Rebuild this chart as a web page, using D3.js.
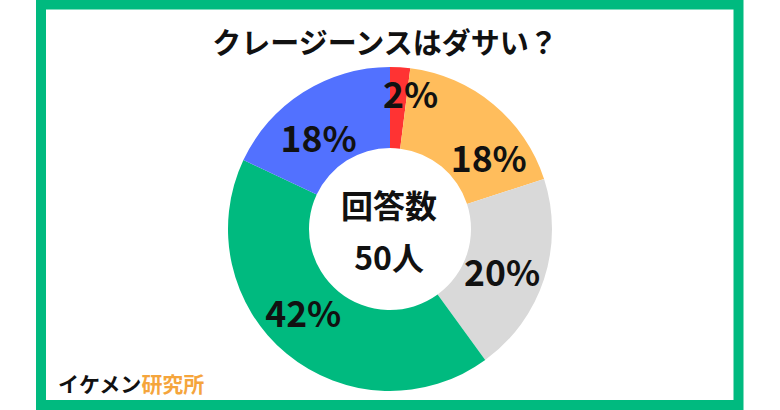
<!DOCTYPE html>
<html><head><meta charset="utf-8">
<script src="https://cdn.jsdelivr.net/npm/d3@7"></script>
<style>
html,body{margin:0;padding:0;background:#fff;}
svg{display:block;}
text{font-family:"Noto Sans CJK JP","Noto Sans",sans-serif;font-weight:700;}
</style></head>
<body>
<svg id="chart" width="780" height="410"></svg>
<script>
// Data
const title = "クレージーンスはダサい？";
const categories = ["A", "B", "C", "D", "E"];
const values = [2, 18, 20, 42, 18];
const labels = ["2%", "18%", "20%", "42%", "18%"];
const centerLines = ["回答数", "50人"];
const brandBlack = "イケメン";
const brandOrange = "研究所";

// Layout / style (kept separate from data)
const colors = ["#FF3333", "#FFBD5C", "#D9D9D9", "#00BA7F", "#5271FF"];
const labelNudge = [[13, -15], [21, 22], [-4, 4], [-9, -12], [-6, 11]];

const svg = d3.select("#chart");

svg.append("rect").attr("x", 41).attr("y", 4.5).attr("width", 697.5).attr("height", 400.5)
  .attr("fill", "none").attr("stroke", "#00BA7F").attr("stroke-width", 10);

svg.append("text").attr("x", 385).attr("y", 41).attr("text-anchor", "middle")
  .attr("dominant-baseline", "central").attr("font-size", 29).attr("fill", "#111").text(title);

const cx = 390, cy = 229, R = 162, r = 81;
const g = svg.append("g").attr("transform", `translate(${cx},${cy})`);
const pie = d3.pie().value(d => d).sort(null);
const arcs = pie(values);
const arc = d3.arc().innerRadius(r).outerRadius(R);
const labelArc = d3.arc().innerRadius(122).outerRadius(122);

g.selectAll("path.slice").data(arcs).enter().append("path")
  .attr("class", "slice").attr("d", arc).attr("fill", (d, i) => colors[i]);

g.selectAll("text.lbl").data(arcs).enter().append("text")
  .attr("class", "lbl")
  .attr("transform", (d, i) => {
    const c = labelArc.centroid(d);
    return `translate(${c[0] + labelNudge[i][0]},${c[1] + labelNudge[i][1]})`;
  })
  .attr("text-anchor", "middle").attr("dominant-baseline", "central")
  .attr("font-size", 35.5).attr("fill", "#111").text((d, i) => labels[i]);

g.selectAll("text.center").data(centerLines).enter().append("text")
  .attr("class", "center").attr("x", -1).attr("y", (d, i) => i === 0 ? -25 : 27)
  .attr("text-anchor", "middle").attr("dominant-baseline", "central")
  .attr("font-size", 32).attr("fill", "#111").text(d => d);

const brand = svg.append("text").attr("x", 58).attr("y", 383)
  .attr("dominant-baseline", "central").attr("font-size", 21);
brand.append("tspan").attr("fill", "#111").text(brandBlack);
brand.append("tspan").attr("fill", "#F5A53C").text(brandOrange);
</script>
</body></html>
